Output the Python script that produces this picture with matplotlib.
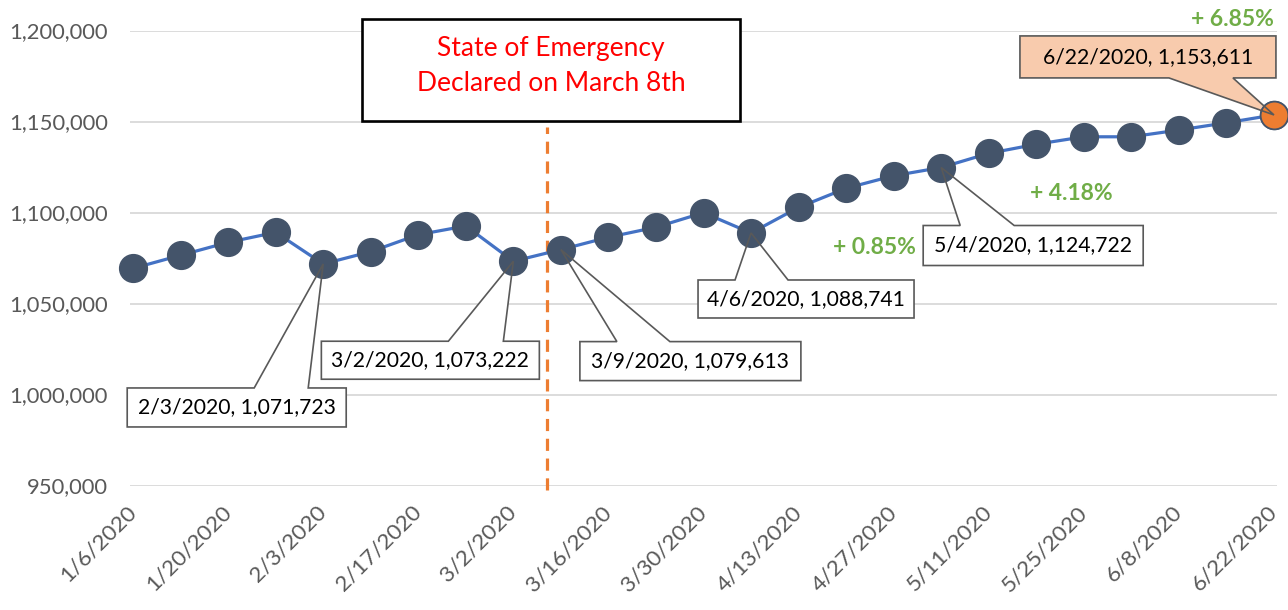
import matplotlib
matplotlib.use('Agg')
import matplotlib.pyplot as plt
import matplotlib.patches as patches
import matplotlib.dates as mdates
from matplotlib.transforms import IdentityTransform
import pandas as pd

# weekly counts
weeks = pd.date_range('2020-01-06', '2020-06-22', freq='7D')
counts = [1069300, 1076500, 1083600, 1089100, 1071723, 1078500, 1087800, 1092600,
          1073222, 1079613, 1086400, 1091900, 1099900, 1088741, 1102800, 1113300,
          1120200, 1124722, 1132500, 1137500, 1141600, 1141600, 1145300, 1149300,
          1153611]
y_ticks = [950000, 1000000, 1050000, 1100000, 1150000, 1200000]
tick_weeks = weeks[::2]
emergency_day = pd.Timestamp('2020-03-07')
emergency_text = "State of Emergency\nDeclared on March 8th"
base_idx = 9              # 3/9/2020, growth is measured from here
pct_idx = [13, 17, 24]

FONT = 'Lato'
W, H = 1288, 610
LINE = '#4472C4'
DOT = '#44546A'
ORANGE = '#ED7D31'
GREEN = '#70AD47'
GRAY = '#595959'

plt.rcParams['font.family'] = [FONT, 'DejaVu Sans']

fig = plt.figure(figsize=(W / 100, H / 100), dpi=100)
ax = fig.add_axes([130 / W, (H - 485.5) / H, 1147 / W, 455 / H])

xn = mdates.date2num(weeks)
ax.set_xlim(xn[0] - 0.45, xn[-1] + 0.45)
ax.set_ylim(y_ticks[0], y_ticks[-1])

ax.plot(weeks, counts, color=LINE, lw=2.3, marker='o', ms=20,
        mfc=DOT, mec=DOT, zorder=3, clip_on=False)
ax.plot(weeks[-1:], counts[-1:], ls='none', marker='o', ms=20,
        mfc=ORANGE, mec=DOT, mew=1.3, zorder=3.1, clip_on=False)

ax.set_yticks(y_ticks)
ax.set_yticklabels([f"{v:,}" for v in y_ticks], fontsize=15.8, color=GRAY)
ax.set_xticks(mdates.date2num(tick_weeks))
ax.set_xticklabels([f"{d.month}/{d.day}/{d.year}" for d in tick_weeks],
                   fontsize=16.2, color=GRAY, rotation=45, ha='right',
                   va='center', rotation_mode='anchor')
ax.tick_params(axis='y', length=0, pad=16)
ax.tick_params(axis='x', length=0, pad=17)
ax.grid(axis='y', color='#D9D9D9', lw=1.3)
ax.set_axisbelow(True)
for s in ax.spines.values():
    s.set_visible(False)

# emergency marker line
ax.axvline(mdates.date2num(emergency_day), ymin=-0.01, ymax=0.788, color=ORANGE,
           lw=2.3, ls=(0, (3.8, 2.4)), clip_on=False, zorder=2)

fig.patches.append(patches.Rectangle((362, H - 121), 378, 102, transform=IdentityTransform(),
                                     fc='white', ec='black', lw=1.9, figure=fig))
fig.text(551, H - 66, emergency_text, transform=IdentityTransform(), color='red',
         fontsize=19, ha='center', va='center', linespacing=1.5)

# callouts: box (left, top, right, bottom) and wedge base, px offsets from the point (y down)
callouts = [
    (4, (-196, 124, 23, 163), (-69, -15), 'top', 'white'),
    (8, (-192, 80, 26, 118), (-65, -10), 'top', 'white'),
    (9, (19, 92, 240, 131), (56, 109), 'top', 'white'),
    (13, (-53, 47, 163, 85), (-16, 37), 'top', 'white'),
    (17, (-18, 58, 202, 98), (19, 73), 'top', 'white'),
    (24, (-254, -79, 2, -37), (-105, -41), 'bottom', '#F8CBAD'),
]
for i, (l, t, r, b), (wa, wb), side, fc in callouts:
    px, py = ax.transData.transform((xn[i], counts[i]))
    L, R = px + l, px + r
    T, B = py - t, py - b
    A, Bw = px + wa, px + wb
    if side == 'top':
        verts = [(L, T), (A, T), (px, py), (Bw, T), (R, T), (R, B), (L, B)]
    else:
        verts = [(L, T), (R, T), (R, B), (Bw, B), (px, py), (A, B), (L, B)]
    ax.add_patch(patches.Polygon(verts, closed=True, fc=fc, ec='none',
                                 transform=IdentityTransform(), clip_on=False, zorder=2.5))
    ax.add_patch(patches.Polygon(verts, closed=True, fill=False, ec=GRAY, lw=1.2,
                                 transform=IdentityTransform(), clip_on=False, zorder=4))
    d = weeks[i]
    ax.text((L + R) / 2, (T + B) / 2, f"{d.month}/{d.day}/{d.year}, {counts[i]:,}",
            transform=IdentityTransform(), fontsize=15.2, ha='center', va='center',
            color='black', zorder=5)

# growth since 3/9
pct_pos = [(874, 248), (1071, 193), (1232, 20)]
for i, (x, y) in zip(pct_idx, pct_pos):
    g = (counts[i] / counts[base_idx] - 1) * 100
    fig.text(x, H - y, f"+ {g:.2f}%", transform=IdentityTransform(), color=GREEN,
             fontsize=16.5, fontweight='bold', ha='center', va='center')

fig.savefig('out.png', dpi=100)
